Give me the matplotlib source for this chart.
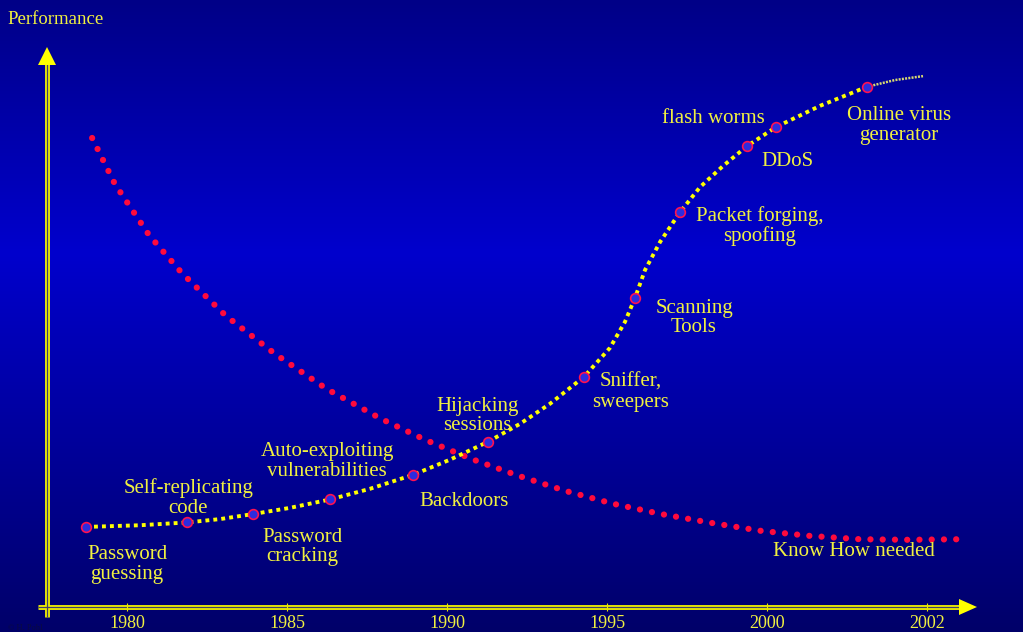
import numpy as np
import matplotlib
matplotlib.use("Agg")
import matplotlib.pyplot as plt
from matplotlib.patches import Polygon

plt.rcParams['font.family'] = ['Liberation Serif', 'DejaVu Serif']

# ---- data (x in "years" on the slide's timeline, y in performance units) ----
tick_pos = [1980, 1985, 1990, 1995, 2000, 2005]
tick_labels = ['1980', '1985', '1990', '1995', '2000', '2002']

# attack sophistication curve (yellow)
attack_x = [1978.72, 1980.41, 1981.875, 1982.91, 1983.94, 1985.09, 1986.34, 1987.59,
            1988.94, 1990.09, 1991.28, 1992.28, 1993.22, 1994.28, 1995.09, 1995.56,
            1995.875, 1996.19, 1996.66, 1997.28, 1997.91, 1998.625, 1999.375,
            2000.28, 2001.66, 2003.125]
attack_y = [14.3, 14.6, 15.1, 15.7, 16.6, 17.7, 19.2, 21.1,
            23.6, 26.3, 29.5, 32.7, 36.3, 41.1, 46.25, 50.9,
            55.2, 60.2, 65.2, 70.5, 75.0, 78.75, 82.3,
            85.7, 89.5, 92.9]
tail_x = [2003.125, 2004.0, 2004.875]
tail_y = [92.9, 94.1, 94.8]

# labelled events on the curve
event_x = [1978.72, 1981.875, 1983.94, 1986.34, 1988.94, 1991.28,
           1994.28, 1995.875, 1997.28, 1999.375, 2000.28, 2003.125]
event_y = [14.3, 15.1, 16.6, 19.2, 23.6, 29.5, 41.1, 55.2, 70.5, 82.3, 85.7, 92.9]
event_labels = ['Password\nguessing', 'Self-replicating\ncode', 'Password\ncracking',
                'Auto-exploiting\nvulnerabilities', 'Backdoors', 'Hijacking\nsessions',
                'Sniffer,\nsweepers', 'Scanning\nTools', 'Packet forging,\nspoofing',
                'DDoS', 'flash worms', 'Online virus\ngenerator']
label_x = [1980.0, 1981.91, 1985.47, 1986.25, 1990.53, 1990.95,
           1995.75, 1997.72, 1999.77, 2000.625, 1998.31, 2004.125]
label_y = [7.6, 19.4, 10.7, 26.0, 18.9, 34.1, 38.35, 51.6, 68.0, 79.6, 87.3, 86.0]

# intruder know-how curve (red)
knowhow_x = [1978.91, 1979.625, 1980.69, 1981.72, 1983.09, 1984.625, 1986.25, 1987.94,
             1989.34, 1990.78, 1992.25, 1993.72, 1995.22, 1996.69, 1998.28, 1999.81,
             2001.34, 2002.91, 2004.44, 2006.03]
knowhow_y = [83.75, 75.5, 66.4, 59.6, 52.0, 45.2, 38.9, 33.6,
             29.8, 26.4, 23.4, 20.7, 18.4, 16.6, 15.0, 13.6,
             12.7, 12.1, 12.0, 12.1]

# ---- figure ----
W, H = 1023, 632
fig = plt.figure(figsize=(W / 100, H / 100), dpi=100)
ax = fig.add_axes([0, 0, 1, 1])

# pixel -> data helpers (slide was laid out 32 px / year, 5.6 px / unit)
def dx(p):
  return 1980 + (p - 127) / 32.0
def dy(p):
  return (607 - p) / 5.6

xlim = (dx(0), dx(W))
ylim = (dy(H), dy(0))
ax.set_xlim(xlim)
ax.set_ylim(ylim)
ax.axis('off')

# background gradient
rows = np.linspace(0, 1, 256)
blue = np.interp(rows, [0, 0.4, 1], [135, 205, 105]) / 255.0
grad = np.zeros((256, 1, 3))
grad[:, 0, 2] = blue
ax.imshow(grad, extent=[xlim[0], xlim[1], ylim[0], ylim[1]], aspect='auto', zorder=0)

# axes as yellow double lines with arrow heads
axcol = '#f0f000'
for xs, ys in (([dx(38), dx(960)], [dy(607), dy(607)]), ([dx(47), dx(47)], [dy(617), dy(64)])):
  ax.plot(xs, ys, color=axcol, lw=3.5, solid_capstyle='butt', zorder=2)
  ax.plot(xs, ys, color='#404068', lw=0.9, solid_capstyle='butt', zorder=3)
ax.add_patch(Polygon([[dx(959), dy(599)], [dx(977), dy(607)], [dx(959), dy(615)]],
                     closed=True, color='#ffff00', lw=0, zorder=4))
ax.add_patch(Polygon([[dx(38), dy(65)], [dx(47), dy(47)], [dx(56), dy(65)]],
                     closed=True, color='#ffff00', lw=0, zorder=4))

# ticks and tick labels
ax.vlines(tick_pos, dy(611), dy(603), color='#e8e800', lw=0.8, zorder=4)
for tp, tl in zip(tick_pos, tick_labels):
  ax.text(tp, dy(624), tl, ha='center', va='center', fontsize=13, color='#f0f040', zorder=5)

ax.text(dx(7), dy(19), 'Performance', ha='left', va='center', fontsize=13.5, color='#f0f040', zorder=5)
ax.text(dx(8), dy(628), '\u00a9 H. Pohl', ha='left', va='center', fontsize=6, color='#0a0a40', zorder=5)

# curves
ax.plot(knowhow_x, knowhow_y, color='#ff0a3c', lw=4.5, dashes=(0.01, 1.95),
        dash_capstyle='round', zorder=6)
ax.plot(attack_x, attack_y, color='#ffff00', lw=2.8, dashes=(1.0, 1.05),
        dash_capstyle='butt', zorder=7)
ax.plot(tail_x, tail_y, color='#d8d870', lw=1.8, dashes=(0.8, 0.5), zorder=7)
ax.plot(event_x, event_y, 'o', ms=7, mfc='#2c2ce0', mec='#ff1050', mew=1.2,
        ls='none', zorder=8)

# labels
for lx, ly, txt in zip(label_x, label_y, event_labels):
  ax.text(lx, ly, txt, ha='center', va='center', fontsize=15, color='#f0f040',
          linespacing=1.05, zorder=9)
ax.text(dx(854), dy(551.5), 'Know How needed', ha='center', va='center',
        fontsize=15, color='#f0f040', zorder=9)

fig.savefig('out.png', dpi=100)
